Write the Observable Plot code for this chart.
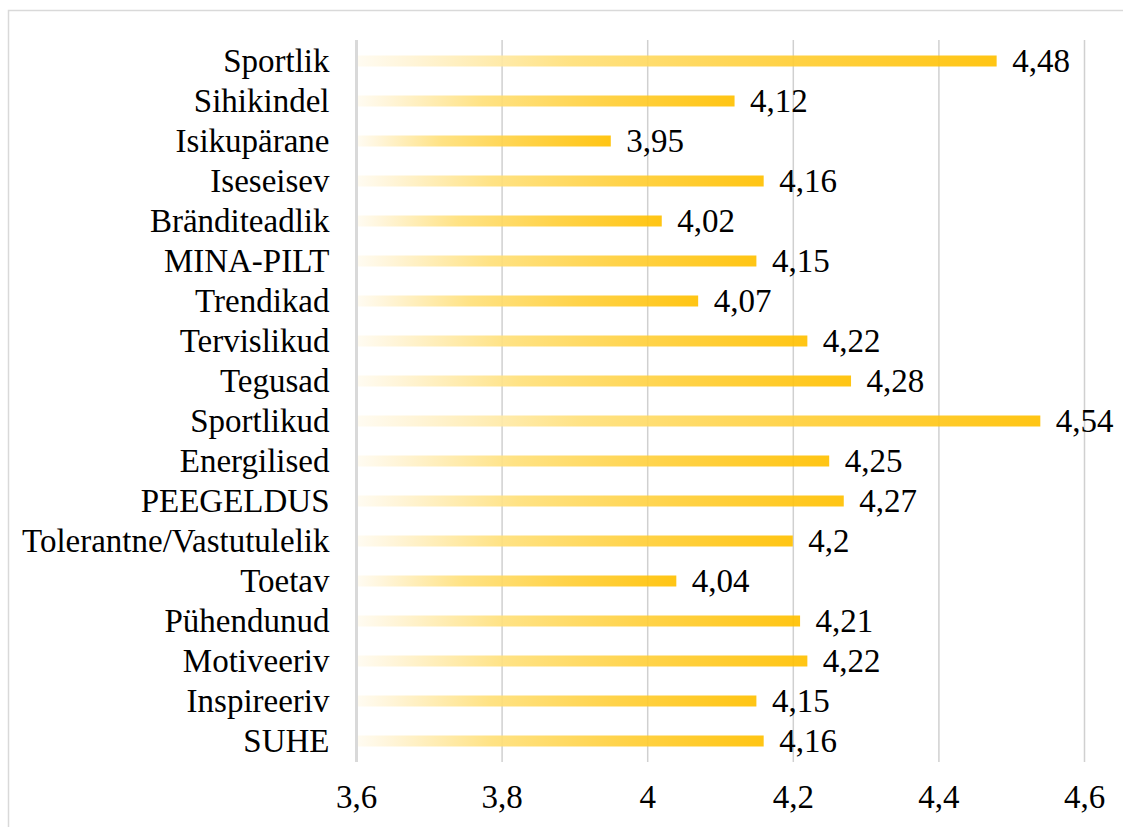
<!DOCTYPE html>
<html>
<head>
<meta charset="utf-8">
<script src="https://cdn.jsdelivr.net/npm/d3@7"></script>
<script src="https://cdn.jsdelivr.net/npm/@observablehq/plot@0.6"></script>
<style>
  html, body { margin: 0; padding: 0; background: #fff; }
  #chart { position: relative; width: 1123px; height: 827px; }
</style>
</head>
<body>
<div id="chart"></div>
<script>
// Rated attributes, top to bottom
const categories = [
  "Sportlik", "Sihikindel", "Isikupärane", "Iseseisev", "Bränditeadlik",
  "MINA-PILT", "Trendikad", "Tervislikud", "Tegusad", "Sportlikud",
  "Energilised", "PEEGELDUS", "Tolerantne/Vastutulelik", "Toetav",
  "Pühendunud", "Motiveeriv", "Inspireeriv", "SUHE"
];
const values = [
  4.48, 4.12, 3.95, 4.16, 4.02,
  4.15, 4.07, 4.22, 4.28, 4.54,
  4.25, 4.27, 4.2, 4.04,
  4.21, 4.22, 4.15, 4.16
];
const xTicks = [3.6, 3.8, 4, 4.2, 4.4, 4.6];
const baseValue = 3.6;

const rows = categories.map((c, i) => ({category: c, value: values[i]}));
const comma = d => String(d).replace(".", ",");
const font = "'Liberation Serif', 'Times New Roman', serif";
const fs = 33;

const plot = Plot.plot({
  width: 1123,
  height: 827,
  marginLeft: 356,
  marginRight: 39,
  marginTop: 40,
  marginBottom: 65,
  style: {fontFamily: font, fontSize: fs + "px", color: "#000", background: "transparent"},
  x: {domain: [3.6, 4.6], axis: null},
  y: {domain: categories, padding: 0, axis: null},
  marks: [
    Plot.ruleX(xTicks.filter(d => d !== baseValue), {stroke: "#d0d0d0", strokeWidth: 1.5}),
    Plot.barX(rows, {
      x1: baseValue, x2: "value", y: "category",
      insetTop: 14.5, insetBottom: 14.5, insetLeft: 2,
      fill: "url(#barGrad)", fillOpacity: 0.92
    }),
    Plot.ruleX([baseValue], {stroke: "#d9d9d9", strokeWidth: 3}),
    Plot.text(rows, {
      x: "value", y: "category", text: d => comma(d.value),
      textAnchor: "start", dx: 15, fill: "#000", fontSize: fs
    }),
    Plot.axisY({tickSize: 0, tickPadding: 27, fontSize: fs, fill: "#000", label: null}),
    Plot.axisX(xTicks, {tickSize: 0, tickPadding: 22, fontSize: fs, fill: "#000",
      tickFormat: comma, label: null})
  ]
});

// Horizontal cream-to-gold gradient applied to every bar
const svg = d3.select(plot);
const defs = svg.insert("defs", ":first-child");
const grad = defs.append("linearGradient")
  .attr("id", "barGrad")
  .attr("x1", "0").attr("y1", "0").attr("x2", "1").attr("y2", "0");
[
  [0, "#fffbf0"],
  [0.08, "#fff4d6"],
  [0.33, "#ffe07a"],
  [0.65, "#ffcf3a"],
  [1, "#ffc000"]
].forEach(([o, c]) => grad.append("stop").attr("offset", o).attr("stop-color", c));

// Light outer border of the chart area
svg.append("path")
  .attr("d", "M8.5,827V10.5H1123")
  .attr("fill", "none")
  .attr("stroke", "#d9d9d9")
  .attr("stroke-width", 1.5);

document.getElementById("chart").appendChild(plot);
</script>
</body>
</html>
